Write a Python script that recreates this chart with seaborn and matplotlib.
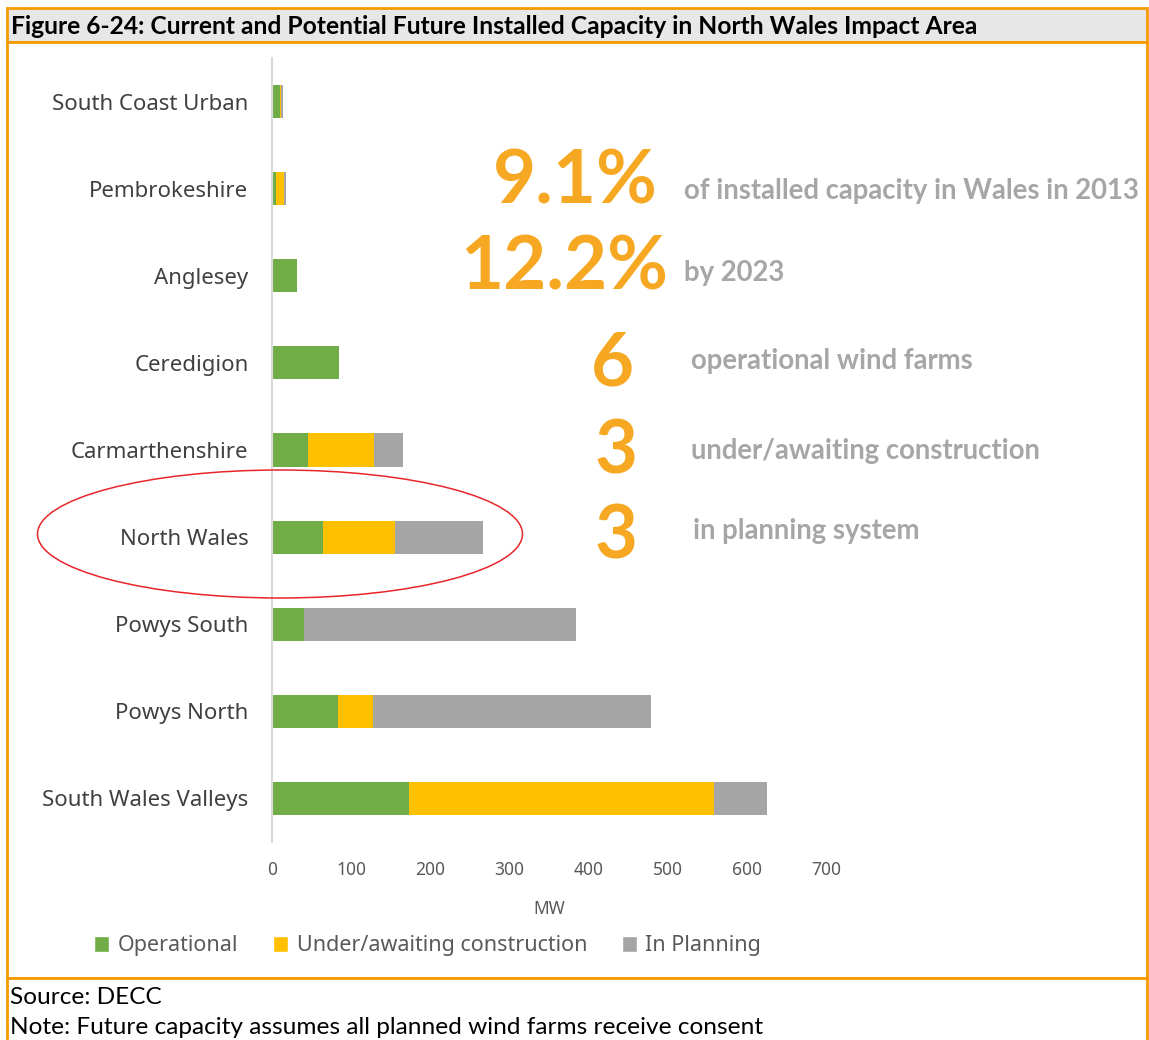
import numpy as np
import pandas as pd
import matplotlib.pyplot as plt
import seaborn as sns
from matplotlib.patches import Patch, Ellipse, Rectangle

areas = ['South Coast Urban', 'Pembrokeshire', 'Anglesey', 'Ceredigion', 'Carmarthenshire',
         'North Wales', 'Powys South', 'Powys North', 'South Wales Valleys']
operational = [10, 5, 31, 85, 45, 64, 41, 83, 173]
under_construction = [2, 10, 0, 0, 84, 91, 0, 44, 386]
in_planning = [2, 3, 0, 0, 36, 111, 343, 352, 67]
series_names = ['Operational', 'Under/awaiting construction', 'In Planning']
colors = ['#70AD47', '#FFC000', '#A5A5A5']

big_numbers = ['9.1%', '12.2%', '6', '3', '3']
big_texts = ['of installed capacity in Wales in 2013', 'by 2023', 'operational wind farms',
             'under/awaiting construction', 'in planning system']

df = pd.DataFrame({'area': areas, 'op': operational, 'uc': under_construction, 'pl': in_planning})
df['s1'] = df['op']
df['s2'] = df['op'] + df['uc']
df['s3'] = df['s2'] + df['pl']

W, H = 1149, 1040
sns.set_style('white')
plt.rcParams['font.family'] = ['Noto Sans', 'DejaVu Sans']

fig = plt.figure(figsize=(W / 100, H / 100), dpi=100)
ORANGE = '#F59B00'

def px(x, y):
    return x / W, 1 - y / H

# frame: title bar, chart box, footer box
fig.patches.append(Rectangle(px(7, 42), 1140 / W, 34 / H, transform=fig.transFigure,
                             facecolor='#E7E7E7', edgecolor=ORANGE, lw=2, zorder=-2))
fig.patches.append(Rectangle(px(7, 978), 1140 / W, 936 / H, transform=fig.transFigure,
                             facecolor='white', edgecolor=ORANGE, lw=2, zorder=-2))
fig.patches.append(Rectangle(px(7, 1045), 1140 / W, 67 / H, transform=fig.transFigure,
                             facecolor='white', edgecolor=ORANGE, lw=2, zorder=-2))

fig.text(*px(11, 26), 'Figure 6-24: Current and Potential Future Installed Capacity in North Wales Impact Area',
         fontsize=17.75, fontweight='bold', family='Lato', va='center', ha='left', color='black')
fig.text(*px(10, 998), 'Source: DECC', fontsize=17.6, family='Lato', va='center', color='black')
fig.text(*px(10, 1028), 'Note: Future capacity assumes all planned wind farms receive consent',
         fontsize=17.6, family='Lato', va='center', color='black')

ax = fig.add_axes([272 / W, 1 - 842 / H, 554 / W, 784 / H])
ax.patch.set_alpha(0)
for col, c in zip(['s3', 's2', 's1'], colors[::-1]):
    sns.barplot(data=df, x=col, y='area', orient='h', color=c, width=0.38,
                saturation=1, ax=ax, order=areas, linewidth=0)
ax.set_xlim(0, 700)
ax.set_xticks(range(0, 701, 100))
ax.set_xlabel('MW', fontsize=12.5, color='#595959', labelpad=15)
ax.set_ylabel('')
for s in ['top', 'right', 'bottom']:
    ax.spines[s].set_visible(False)
ax.spines['left'].set_color('#D9D9D9')
ax.spines['left'].set_linewidth(1.5)
ax.tick_params(axis='x', length=0, labelsize=12.5, labelcolor='#595959', pad=14)
ax.tick_params(axis='y', length=0, labelsize=16, labelcolor='#404040', pad=17)

handles = [Patch(facecolor=c, label=n) for c, n in zip(colors, series_names)]
fig.legend(handles=handles, loc='center left', bbox_to_anchor=px(75, 946), ncol=3,
           frameon=False, fontsize=15.5, handlelength=0.7, handleheight=0.7,
           handletextpad=0.4, columnspacing=1.6, labelcolor='#595959')

# red highlight ellipse
fig.patches.append(Ellipse(px(280, 534), 485 / W, 128 / H, transform=fig.transFigure,
                           facecolor='none', edgecolor='#E8262A', lw=1.1, zorder=5))

# big stats
num_pos = [(658, 182, 'right'), (668, 268, 'right'), (612, 364, 'center'),
           (616, 452, 'center'), (616, 537, 'center')]
txt_pos = [(684, 191), (684, 273), (691, 361), (691, 451), (693, 531)]
for num, txt, (nx, ny, ha), (tx, ty) in zip(big_numbers, big_texts, num_pos, txt_pos):
    fig.text(*px(nx, ny), num, fontsize=53.5, fontweight='bold', family='Lato',
             color='#F7A823', ha=ha, va='center')
    fig.text(*px(tx, ty), txt, fontsize=19.8, fontweight='bold', family='Lato',
             color='#A6A6A6', ha='left', va='center')

fig.savefig('out.png', dpi=100)
